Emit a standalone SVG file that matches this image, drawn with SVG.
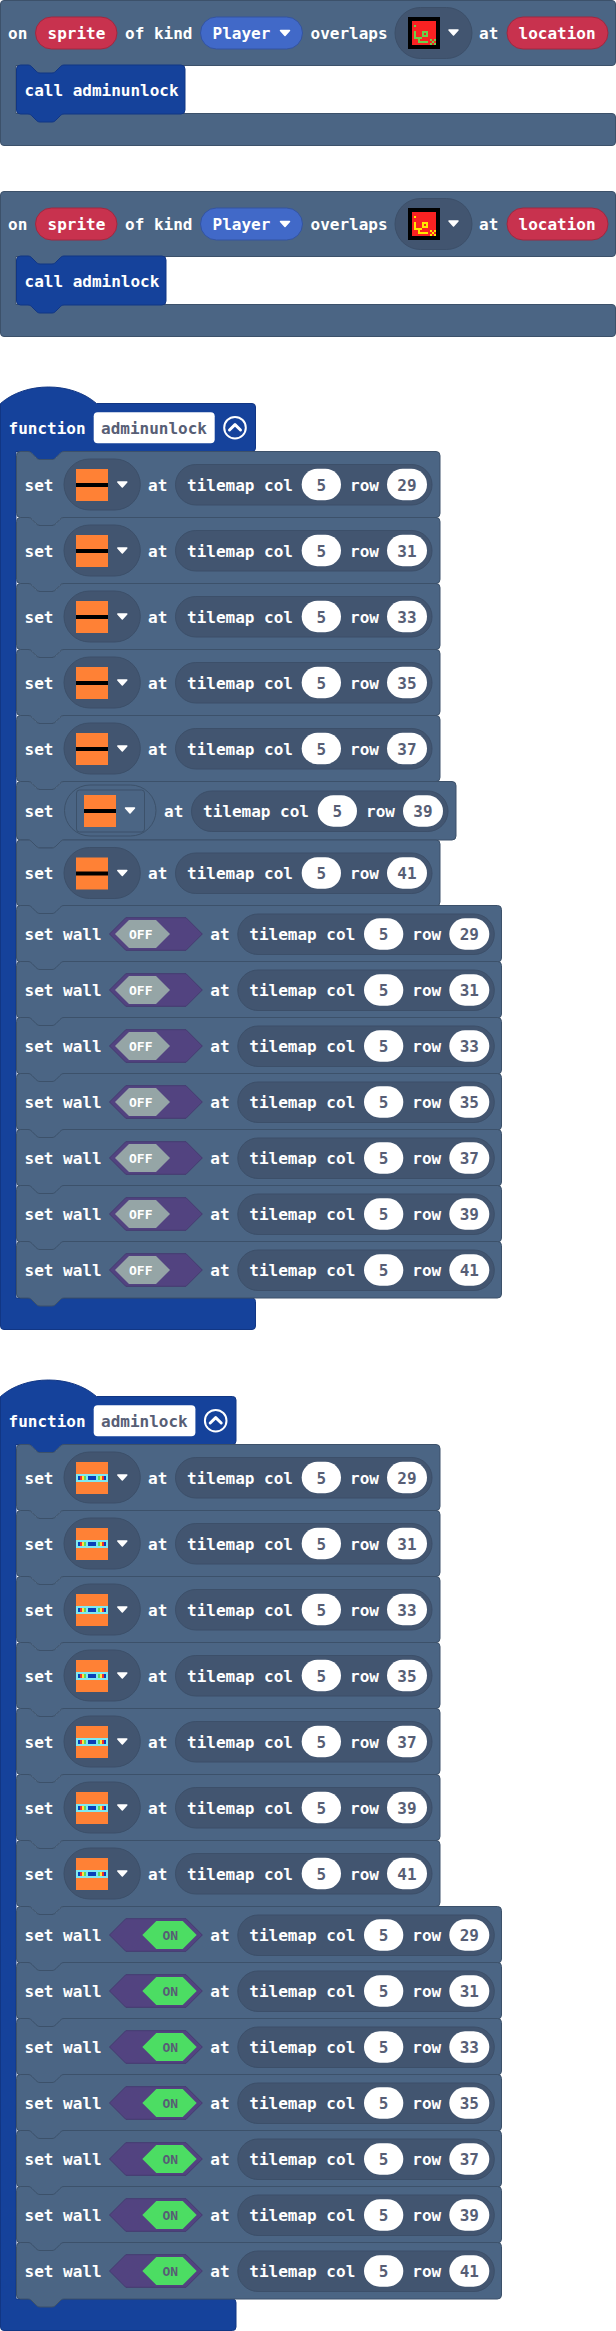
<svg xmlns="http://www.w3.org/2000/svg" xmlns:xlink="http://www.w3.org/1999/xlink" width="616" height="2331" viewBox="0 0 616 2331">
<style>
text{font-family:"DejaVu Sans Mono","Liberation Mono",monospace;font-weight:700;font-size:16px;fill:#fff}
.m{text-anchor:middle}
.d{fill:#575e75}
.s{font-size:13px}
.blk{fill:#4b6584;stroke:#3c516a;stroke-width:1}
.fn{fill:#15429b;stroke:#113684;stroke-width:1}
.pill{fill:#425570;stroke:#3c4f69;stroke-width:1}
.red{fill:#c8324e;stroke:#a02840;stroke-width:1}
.pl{fill:#4169c8;stroke:#3454a0;stroke-width:1}
.arr{fill:#fff;stroke:#fff;stroke-width:1.5;stroke-linejoin:round}
.num{fill:#fff}
.or{fill:#ff8135}
</style>
<defs>
<path id="b-set" class="blk" d="M16.5,4 q0,-4 4,-4 h7.5 c2,0 3,1 4,2 l4,4 c1,1 2,2 4,2 h12 c2,0 3,-1 4,-2 l4,-4 c1,-1 2,-2 4,-2 H436 q4,0 4,4 V62 q0,4 -4,4 H64 c-2,0 -3,1 -4,2 l-4,4 c-1,1 -2,2 -4,2 h-12 c-2,0 -3,-1 -4,-2 l-4,-4 c-1,-1 -2,-2 -4,-2 h-7.5 q-4,0 -4,-4 Z"/>
<path id="b-set39" class="blk" d="M16.5,4 q0,-4 4,-4 h7.5 c2,0 3,1 4,2 l4,4 c1,1 2,2 4,2 h12 c2,0 3,-1 4,-2 l4,-4 c1,-1 2,-2 4,-2 H452 q4,0 4,4 V54.5 q0,4 -4,4 H64 c-2,0 -3,1 -4,2 l-4,4 c-1,1 -2,2 -4,2 h-12 c-2,0 -3,-1 -4,-2 l-4,-4 c-1,-1 -2,-2 -4,-2 h-7.5 q-4,0 -4,-4 Z"/>
<path id="b-wall" class="blk" d="M16.5,4 q0,-4 4,-4 h7.5 c2,0 3,1 4,2 l4,4 c1,1 2,2 4,2 h12 c2,0 3,-1 4,-2 l4,-4 c1,-1 2,-2 4,-2 H497.5 q4,0 4,4 V52.5 q0,4 -4,4 H64 c-2,0 -3,1 -4,2 l-4,4 c-1,1 -2,2 -4,2 h-12 c-2,0 -3,-1 -4,-2 l-4,-4 c-1,-1 -2,-2 -4,-2 h-7.5 q-4,0 -4,-4 Z"/>
<path id="arrow" class="arr" d="M-4.5,-2.5 H4.5 L0,2.5 Z"/>
<g id="tm">
<rect class="pill" x="175.5" y="-20" width="256.5" height="40.5" rx="20.2"/>
<rect class="num" x="301.7" y="-15.7" width="39.3" height="31.4" rx="15.7"/>
<rect class="num" x="387" y="-15.7" width="40" height="31.4" rx="15.7"/>
</g>
<g id="ddp">
<rect class="pill" x="64" y="7.5" width="76.3" height="51" rx="25.5"/>
<use xlink:href="#arrow" href="#arrow" x="122.3" y="33"/>
</g>
<g id="i-off"><rect class="or" width="32" height="32"/><rect y="14" width="32" height="4" fill="#000"/></g>
<g id="i-on">
<rect class="or" width="32" height="32"/>
<rect y="12" width="32" height="8" fill="#7fe9f2"/>
<rect x="2" y="14" width="2" height="4" fill="#0a3fb8"/><rect x="4" y="14" width="2" height="4" fill="#f03030"/><rect x="6" y="14" width="2" height="4" fill="#ffe83a"/><rect x="8" y="14" width="2" height="4" fill="#60d860"/>
<rect x="12" y="14" width="8" height="4" fill="#0a3fb8"/>
<rect x="22" y="14" width="2" height="4" fill="#60d860"/><rect x="24" y="14" width="2" height="4" fill="#ffe83a"/><rect x="26" y="14" width="2" height="4" fill="#f03030"/><rect x="28" y="14" width="2" height="4" fill="#0a3fb8"/>
</g>
<path id="px" d="M6,8h2v2h-2zM6,14h2v6h-2zM6,20h8v2h-8zM14,14h6v6h-6zM16,16h2v2h-2zM10,22h2v2h-2zM10,24h10v2h-10zM22,22h2v2h-2zM26,22h2v2h-2zM24,24h2v2h-2zM22,26h2v2h-2zM26,26h2v2h-2z" fill-rule="evenodd"/>
<g id="w-off">
<path d="M109.5,0 L125.8,-16.3 H186 L202.3,0 L186,16.3 H125.8 Z" fill="#524380" stroke="#453a70"/>
<path d="M115,0 L129,-14 H156 L170,0 L156,14 H129 Z" fill="#95a5a6"/>
</g>
<g id="w-on">
<path d="M109.5,0 L125.8,-16.3 H186 L202.3,0 L186,16.3 H125.8 Z" fill="#524380" stroke="#453a70"/>
<path d="M142.3,0 L156.3,-14 H182.7 L196.7,0 L182.7,14 H156.3 Z" fill="#4cdd63"/>
</g>
</defs>

<g id="connectors"></g>

<g id="event-unlock">
<path class="blk" d="M0.5,4 q0,-3.5 3.5,-3.5 H612 q3.5,0 3.5,3.5 V62 q0,3.5 -3.5,3.5 H64 c-2,0 -3,1 -4,2 l-4,4 c-1,1 -2,2 -4,2 h-12 c-2,0 -3,-1 -4,-2 l-4,-4 c-1,-1 -2,-2 -4,-2 H16 V113.5 H612 q3.5,0 3.5,3.5 V142 q0,3.5 -3.5,3.5 H4 q-3.5,0 -3.5,-3.5 Z"/>
<rect class="red" x="35.5" y="17" width="81.5" height="32" rx="16"/>
<rect class="pl" x="200.5" y="17" width="102" height="32" rx="16"/>
<rect class="pill" x="395" y="7.5" width="77" height="51" rx="25.5"/>
<rect x="408" y="17" width="32" height="32" fill="#000"/><rect x="412" y="21" width="24" height="24" fill="#f92222"/>
<use xlink:href="#px" href="#px" x="408" y="17" fill="#6ad04a"/>
<use xlink:href="#arrow" href="#arrow" x="453.5" y="32.5"/>
<use xlink:href="#arrow" href="#arrow" x="285" y="33"/>
<rect class="red" x="507" y="17" width="101" height="32" rx="16"/>
<text x="8" y="38.5">on</text><text x="47.5" y="38.5">sprite</text><text x="125" y="38.5">of kind</text><text x="212.5" y="38.5">Player</text><text x="310.5" y="38.5">overlaps</text><text x="479" y="38.5">at</text><text x="518.5" y="38.5">location</text>
</g>
<g id="call-adminunlock">
<path class="fn" d="M16.5,69 q0,-4 4,-4 h7.5 c2,0 3,1 4,2 l4,4 c1,1 2,2 4,2 h12 c2,0 3,-1 4,-2 l4,-4 c1,-1 2,-2 4,-2 H181 q4,0 4,4 V110 q0,4 -4,4 H64 c-2,0 -3,1 -4,2 l-4,4 c-1,1 -2,2 -4,2 h-12 c-2,0 -3,-1 -4,-2 l-4,-4 c-1,-1 -2,-2 -4,-2 h-7.5 q-4,0 -4,-4 Z"/>
<text x="24.5" y="96">call adminunlock</text>
</g>

<g id="event-lock" transform="translate(0,191)">
<path class="blk" d="M0.5,4 q0,-3.5 3.5,-3.5 H612 q3.5,0 3.5,3.5 V62 q0,3.5 -3.5,3.5 H64 c-2,0 -3,1 -4,2 l-4,4 c-1,1 -2,2 -4,2 h-12 c-2,0 -3,-1 -4,-2 l-4,-4 c-1,-1 -2,-2 -4,-2 H16 V113.5 H612 q3.5,0 3.5,3.5 V142 q0,3.5 -3.5,3.5 H4 q-3.5,0 -3.5,-3.5 Z"/>
<rect class="red" x="35.5" y="17" width="81.5" height="32" rx="16"/>
<rect class="pl" x="200.5" y="17" width="102" height="32" rx="16"/>
<rect class="pill" x="395" y="7.5" width="77" height="51" rx="25.5"/>
<rect x="408" y="17" width="32" height="32" fill="#000"/><rect x="412" y="21" width="24" height="24" fill="#f92222"/>
<use xlink:href="#px" href="#px" x="408" y="17" fill="#ffe600"/>
<use xlink:href="#arrow" href="#arrow" x="453.5" y="32.5"/>
<use xlink:href="#arrow" href="#arrow" x="285" y="33"/>
<rect class="red" x="507" y="17" width="101" height="32" rx="16"/>
<text x="8" y="38.5">on</text><text x="47.5" y="38.5">sprite</text><text x="125" y="38.5">of kind</text><text x="212.5" y="38.5">Player</text><text x="310.5" y="38.5">overlaps</text><text x="479" y="38.5">at</text><text x="518.5" y="38.5">location</text>
</g>
<g id="call-adminlock" transform="translate(0,191)">
<path class="fn" d="M16.5,69 q0,-4 4,-4 h7.5 c2,0 3,1 4,2 l4,4 c1,1 2,2 4,2 h12 c2,0 3,-1 4,-2 l4,-4 c1,-1 2,-2 4,-2 H162 q4,0 4,4 V110 q0,4 -4,4 H64 c-2,0 -3,1 -4,2 l-4,4 c-1,1 -2,2 -4,2 h-12 c-2,0 -3,-1 -4,-2 l-4,-4 c-1,-1 -2,-2 -4,-2 h-7.5 q-4,0 -4,-4 Z"/>
<text x="24.5" y="96">call adminlock</text>
</g>

<g id="function-adminunlock">
<path class="fn" d="M0.5,403.5 c25,-22 71,-22 96,0 H252 q3.5,0 3.5,3.5 V448 q0,3.5 -3.5,3.5 H64 c-2,0 -3,1 -4,2 l-4,4 c-1,1 -2,2 -4,2 h-12 c-2,0 -3,-1 -4,-2 l-4,-4 c-1,-1 -2,-2 -4,-2 H16 V1298 H252 q3.5,0 3.5,3.5 V1326 q0,3.5 -3.5,3.5 H4 q-3.5,0 -3.5,-3.5 Z"/>
<text x="8.5" y="433.5">function</text>
<rect x="93.7" y="412.3" width="121" height="31" rx="4" fill="#fff"/>
<text class="d" x="101" y="433.5">adminunlock</text>
<circle cx="235" cy="427.7" r="10.8" fill="none" stroke="#fff" stroke-width="2"/>
<path d="M229.5,430 L235,424.7 L240.5,430" fill="none" stroke="#fff" stroke-width="3" stroke-linecap="round" stroke-linejoin="round"/>
</g>

<g id="u-set-29" transform="translate(0,451.5)"><use href="#b-set"/><use href="#ddp"/><use href="#i-off" x="76" y="17.5"/><g transform="translate(0,33)"><use href="#tm"/></g><text x="24.5" y="39">set</text><text x="148" y="39">at</text><text x="187" y="39">tilemap col</text><text class="m d" x="321.3" y="39">5</text><text x="350" y="39">row</text><text class="m d" x="407" y="39">29</text></g>
<g id="u-set-31" transform="translate(0,517.5)"><use href="#b-set"/><use href="#ddp"/><use href="#i-off" x="76" y="17.5"/><g transform="translate(0,33)"><use href="#tm"/></g><text x="24.5" y="39">set</text><text x="148" y="39">at</text><text x="187" y="39">tilemap col</text><text class="m d" x="321.3" y="39">5</text><text x="350" y="39">row</text><text class="m d" x="407" y="39">31</text></g>
<g id="u-set-33" transform="translate(0,583.5)"><use href="#b-set"/><use href="#ddp"/><use href="#i-off" x="76" y="17.5"/><g transform="translate(0,33)"><use href="#tm"/></g><text x="24.5" y="39">set</text><text x="148" y="39">at</text><text x="187" y="39">tilemap col</text><text class="m d" x="321.3" y="39">5</text><text x="350" y="39">row</text><text class="m d" x="407" y="39">33</text></g>
<g id="u-set-35" transform="translate(0,649.5)"><use href="#b-set"/><use href="#ddp"/><use href="#i-off" x="76" y="17.5"/><g transform="translate(0,33)"><use href="#tm"/></g><text x="24.5" y="39">set</text><text x="148" y="39">at</text><text x="187" y="39">tilemap col</text><text class="m d" x="321.3" y="39">5</text><text x="350" y="39">row</text><text class="m d" x="407" y="39">35</text></g>
<g id="u-set-37" transform="translate(0,715.5)"><use href="#b-set"/><use href="#ddp"/><use href="#i-off" x="76" y="17.5"/><g transform="translate(0,33)"><use href="#tm"/></g><text x="24.5" y="39">set</text><text x="148" y="39">at</text><text x="187" y="39">tilemap col</text><text class="m d" x="321.3" y="39">5</text><text x="350" y="39">row</text><text class="m d" x="407" y="39">37</text></g>
<g id="u-set-39" transform="translate(0,781.5)"><use href="#b-set39"/>
<rect x="64.5" y="3.5" width="91.5" height="51" rx="25.5" fill="none" stroke="#3c516a"/>
<rect x="76.5" y="8.5" width="68" height="42" rx="3" fill="none" stroke="#3c516a"/>
<use href="#i-off" x="84" y="13.5"/><use href="#arrow" x="130" y="29"/>
<g transform="translate(16,29.5)"><use href="#tm"/></g><text x="24.5" y="35">set</text><text x="164" y="35">at</text><text x="203" y="35">tilemap col</text><text class="m d" x="337.3" y="35">5</text><text x="366" y="35">row</text><text class="m d" x="423" y="35">39</text></g>
<g id="u-set-41" transform="translate(0,840)"><use href="#b-set"/><use href="#ddp"/><use href="#i-off" x="76" y="17.5"/><g transform="translate(0,33)"><use href="#tm"/></g><text x="24.5" y="39">set</text><text x="148" y="39">at</text><text x="187" y="39">tilemap col</text><text class="m d" x="321.3" y="39">5</text><text x="350" y="39">row</text><text class="m d" x="407" y="39">41</text></g>

<g id="u-wall-29" transform="translate(0,905.5)"><use href="#b-wall"/><use href="#w-off" y="28.5"/><g transform="translate(62.3,28.5)"><use href="#tm"/></g><text x="24.5" y="34">set wall</text><text class="s" x="129" y="33">OFF</text><text x="210.3" y="34">at</text><text x="249.3" y="34">tilemap col</text><text class="m d" x="383.6" y="34">5</text><text x="412.3" y="34">row</text><text class="m d" x="469.3" y="34">29</text></g>
<g id="u-wall-31" transform="translate(0,961.5)"><use href="#b-wall"/><use href="#w-off" y="28.5"/><g transform="translate(62.3,28.5)"><use href="#tm"/></g><text x="24.5" y="34">set wall</text><text class="s" x="129" y="33">OFF</text><text x="210.3" y="34">at</text><text x="249.3" y="34">tilemap col</text><text class="m d" x="383.6" y="34">5</text><text x="412.3" y="34">row</text><text class="m d" x="469.3" y="34">31</text></g>
<g id="u-wall-33" transform="translate(0,1017.5)"><use href="#b-wall"/><use href="#w-off" y="28.5"/><g transform="translate(62.3,28.5)"><use href="#tm"/></g><text x="24.5" y="34">set wall</text><text class="s" x="129" y="33">OFF</text><text x="210.3" y="34">at</text><text x="249.3" y="34">tilemap col</text><text class="m d" x="383.6" y="34">5</text><text x="412.3" y="34">row</text><text class="m d" x="469.3" y="34">33</text></g>
<g id="u-wall-35" transform="translate(0,1073.5)"><use href="#b-wall"/><use href="#w-off" y="28.5"/><g transform="translate(62.3,28.5)"><use href="#tm"/></g><text x="24.5" y="34">set wall</text><text class="s" x="129" y="33">OFF</text><text x="210.3" y="34">at</text><text x="249.3" y="34">tilemap col</text><text class="m d" x="383.6" y="34">5</text><text x="412.3" y="34">row</text><text class="m d" x="469.3" y="34">35</text></g>
<g id="u-wall-37" transform="translate(0,1129.5)"><use href="#b-wall"/><use href="#w-off" y="28.5"/><g transform="translate(62.3,28.5)"><use href="#tm"/></g><text x="24.5" y="34">set wall</text><text class="s" x="129" y="33">OFF</text><text x="210.3" y="34">at</text><text x="249.3" y="34">tilemap col</text><text class="m d" x="383.6" y="34">5</text><text x="412.3" y="34">row</text><text class="m d" x="469.3" y="34">37</text></g>
<g id="u-wall-39" transform="translate(0,1185.5)"><use href="#b-wall"/><use href="#w-off" y="28.5"/><g transform="translate(62.3,28.5)"><use href="#tm"/></g><text x="24.5" y="34">set wall</text><text class="s" x="129" y="33">OFF</text><text x="210.3" y="34">at</text><text x="249.3" y="34">tilemap col</text><text class="m d" x="383.6" y="34">5</text><text x="412.3" y="34">row</text><text class="m d" x="469.3" y="34">39</text></g>
<g id="u-wall-41" transform="translate(0,1241.5)"><use href="#b-wall"/><use href="#w-off" y="28.5"/><g transform="translate(62.3,28.5)"><use href="#tm"/></g><text x="24.5" y="34">set wall</text><text class="s" x="129" y="33">OFF</text><text x="210.3" y="34">at</text><text x="249.3" y="34">tilemap col</text><text class="m d" x="383.6" y="34">5</text><text x="412.3" y="34">row</text><text class="m d" x="469.3" y="34">41</text></g>

<g id="function-adminlock">
<path class="fn" d="M0.5,1396.5 c25,-22 71,-22 96,0 H232.5 q3.5,0 3.5,3.5 V1441 q0,3.5 -3.5,3.5 H64 c-2,0 -3,1 -4,2 l-4,4 c-1,1 -2,2 -4,2 h-12 c-2,0 -3,-1 -4,-2 l-4,-4 c-1,-1 -2,-2 -4,-2 H16 V2299 H232.5 q3.5,0 3.5,3.5 V2327 q0,3.5 -3.5,3.5 H4 q-3.5,0 -3.5,-3.5 Z"/>
<text x="8.5" y="1426.5">function</text>
<rect x="93.7" y="1405.3" width="101.7" height="31" rx="4" fill="#fff"/>
<text class="d" x="101" y="1426.5">adminlock</text>
<circle cx="215.7" cy="1420.7" r="10.8" fill="none" stroke="#fff" stroke-width="2"/>
<path d="M210.2,1423 L215.7,1417.7 L221.2,1423" fill="none" stroke="#fff" stroke-width="3" stroke-linecap="round" stroke-linejoin="round"/>
</g>

<g id="l-set-29" transform="translate(0,1444.5)"><use href="#b-set"/><use href="#ddp"/><use href="#i-on" x="76" y="17.5"/><g transform="translate(0,33)"><use href="#tm"/></g><text x="24.5" y="39">set</text><text x="148" y="39">at</text><text x="187" y="39">tilemap col</text><text class="m d" x="321.3" y="39">5</text><text x="350" y="39">row</text><text class="m d" x="407" y="39">29</text></g>
<g id="l-set-31" transform="translate(0,1510.5)"><use href="#b-set"/><use href="#ddp"/><use href="#i-on" x="76" y="17.5"/><g transform="translate(0,33)"><use href="#tm"/></g><text x="24.5" y="39">set</text><text x="148" y="39">at</text><text x="187" y="39">tilemap col</text><text class="m d" x="321.3" y="39">5</text><text x="350" y="39">row</text><text class="m d" x="407" y="39">31</text></g>
<g id="l-set-33" transform="translate(0,1576.5)"><use href="#b-set"/><use href="#ddp"/><use href="#i-on" x="76" y="17.5"/><g transform="translate(0,33)"><use href="#tm"/></g><text x="24.5" y="39">set</text><text x="148" y="39">at</text><text x="187" y="39">tilemap col</text><text class="m d" x="321.3" y="39">5</text><text x="350" y="39">row</text><text class="m d" x="407" y="39">33</text></g>
<g id="l-set-35" transform="translate(0,1642.5)"><use href="#b-set"/><use href="#ddp"/><use href="#i-on" x="76" y="17.5"/><g transform="translate(0,33)"><use href="#tm"/></g><text x="24.5" y="39">set</text><text x="148" y="39">at</text><text x="187" y="39">tilemap col</text><text class="m d" x="321.3" y="39">5</text><text x="350" y="39">row</text><text class="m d" x="407" y="39">35</text></g>
<g id="l-set-37" transform="translate(0,1708.5)"><use href="#b-set"/><use href="#ddp"/><use href="#i-on" x="76" y="17.5"/><g transform="translate(0,33)"><use href="#tm"/></g><text x="24.5" y="39">set</text><text x="148" y="39">at</text><text x="187" y="39">tilemap col</text><text class="m d" x="321.3" y="39">5</text><text x="350" y="39">row</text><text class="m d" x="407" y="39">37</text></g>
<g id="l-set-39" transform="translate(0,1774.5)"><use href="#b-set"/><use href="#ddp"/><use href="#i-on" x="76" y="17.5"/><g transform="translate(0,33)"><use href="#tm"/></g><text x="24.5" y="39">set</text><text x="148" y="39">at</text><text x="187" y="39">tilemap col</text><text class="m d" x="321.3" y="39">5</text><text x="350" y="39">row</text><text class="m d" x="407" y="39">39</text></g>
<g id="l-set-41" transform="translate(0,1840.5)"><use href="#b-set"/><use href="#ddp"/><use href="#i-on" x="76" y="17.5"/><g transform="translate(0,33)"><use href="#tm"/></g><text x="24.5" y="39">set</text><text x="148" y="39">at</text><text x="187" y="39">tilemap col</text><text class="m d" x="321.3" y="39">5</text><text x="350" y="39">row</text><text class="m d" x="407" y="39">41</text></g>

<g id="l-wall-29" transform="translate(0,1906.5)"><use href="#b-wall"/><use href="#w-on" y="28.5"/><g transform="translate(62.3,28.5)"><use href="#tm"/></g><text x="24.5" y="34">set wall</text><text class="s d" x="162.5" y="33">ON</text><text x="210.3" y="34">at</text><text x="249.3" y="34">tilemap col</text><text class="m d" x="383.6" y="34">5</text><text x="412.3" y="34">row</text><text class="m d" x="469.3" y="34">29</text></g>
<g id="l-wall-31" transform="translate(0,1962.5)"><use href="#b-wall"/><use href="#w-on" y="28.5"/><g transform="translate(62.3,28.5)"><use href="#tm"/></g><text x="24.5" y="34">set wall</text><text class="s d" x="162.5" y="33">ON</text><text x="210.3" y="34">at</text><text x="249.3" y="34">tilemap col</text><text class="m d" x="383.6" y="34">5</text><text x="412.3" y="34">row</text><text class="m d" x="469.3" y="34">31</text></g>
<g id="l-wall-33" transform="translate(0,2018.5)"><use href="#b-wall"/><use href="#w-on" y="28.5"/><g transform="translate(62.3,28.5)"><use href="#tm"/></g><text x="24.5" y="34">set wall</text><text class="s d" x="162.5" y="33">ON</text><text x="210.3" y="34">at</text><text x="249.3" y="34">tilemap col</text><text class="m d" x="383.6" y="34">5</text><text x="412.3" y="34">row</text><text class="m d" x="469.3" y="34">33</text></g>
<g id="l-wall-35" transform="translate(0,2074.5)"><use href="#b-wall"/><use href="#w-on" y="28.5"/><g transform="translate(62.3,28.5)"><use href="#tm"/></g><text x="24.5" y="34">set wall</text><text class="s d" x="162.5" y="33">ON</text><text x="210.3" y="34">at</text><text x="249.3" y="34">tilemap col</text><text class="m d" x="383.6" y="34">5</text><text x="412.3" y="34">row</text><text class="m d" x="469.3" y="34">35</text></g>
<g id="l-wall-37" transform="translate(0,2130.5)"><use href="#b-wall"/><use href="#w-on" y="28.5"/><g transform="translate(62.3,28.5)"><use href="#tm"/></g><text x="24.5" y="34">set wall</text><text class="s d" x="162.5" y="33">ON</text><text x="210.3" y="34">at</text><text x="249.3" y="34">tilemap col</text><text class="m d" x="383.6" y="34">5</text><text x="412.3" y="34">row</text><text class="m d" x="469.3" y="34">37</text></g>
<g id="l-wall-39" transform="translate(0,2186.5)"><use href="#b-wall"/><use href="#w-on" y="28.5"/><g transform="translate(62.3,28.5)"><use href="#tm"/></g><text x="24.5" y="34">set wall</text><text class="s d" x="162.5" y="33">ON</text><text x="210.3" y="34">at</text><text x="249.3" y="34">tilemap col</text><text class="m d" x="383.6" y="34">5</text><text x="412.3" y="34">row</text><text class="m d" x="469.3" y="34">39</text></g>
<g id="l-wall-41" transform="translate(0,2242.5)"><use href="#b-wall"/><use href="#w-on" y="28.5"/><g transform="translate(62.3,28.5)"><use href="#tm"/></g><text x="24.5" y="34">set wall</text><text class="s d" x="162.5" y="33">ON</text><text x="210.3" y="34">at</text><text x="249.3" y="34">tilemap col</text><text class="m d" x="383.6" y="34">5</text><text x="412.3" y="34">row</text><text class="m d" x="469.3" y="34">41</text></g>
</svg>
